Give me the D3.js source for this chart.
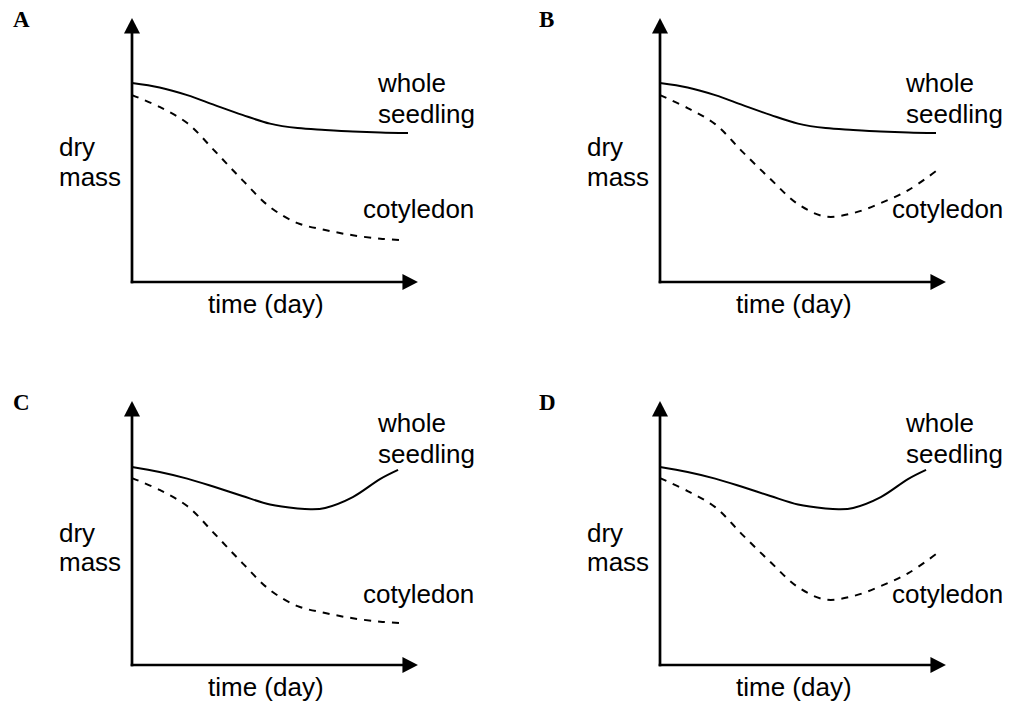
<!DOCTYPE html>
<html>
<head>
<meta charset="utf-8">
<script src="https://cdn.jsdelivr.net/npm/d3@7"></script>
<style>
  html, body { margin: 0; padding: 0; background: #fff; }
  svg { display: block; }
  text { font-family: "Liberation Sans", Arial, sans-serif; fill: #000; }
  .letter { font-family: "Liberation Serif", "Times New Roman", serif; font-weight: bold; }
</style>
</head>
<body>
<svg id="chart" width="1013" height="708"></svg>
<script>
// ---- data ----
const panelLetters = ["A", "B", "C", "D"];
const seriesNames = ["whole seedling", "cotyledon"];
const axisLabels = { x: "time (day)", y: ["dry", "mass"] };

// time (arbitrary days 0..10), dry mass (arbitrary units 0..100)
const daysFull = [0, 1, 2, 3, 4, 5, 6, 7, 8, 9, 10];

// whole seedling: levels off (A, B)
const wholeLevel = [75.4, 73.7, 70.8, 67.0, 63.3, 60.0, 58.3, 57.6, 57.0, 56.6, 56.4];
// whole seedling: dips then rises (C, D)
const wholeRiseDays = [0, 1, 2, 3, 4, 5, 6, 6.5, 7, 8, 9, 9.64];
const wholeRise = [75.0, 73.1, 70.6, 67.4, 64.0, 60.8, 59.3, 59.0, 59.5, 63.6, 70.5, 73.9];

// cotyledon: falls and levels off (A, C)
const cotFallDays = [0, 1, 2, 3, 4, 5, 6, 7, 8, 9, 9.7];
const cotFall = [70.8, 66.3, 60.2, 49.6, 38.6, 28.4, 22.3, 19.7, 17.7, 16.4, 15.9];
// cotyledon: falls then rises (B, D)
const cotRise = [70.8, 65.9, 59.8, 49.2, 39.0, 29.5, 24.8, 26.1, 29.9, 34.8, 42.0];

// ---- layout ----
const svg = d3.select("#chart");
const panelOrigins = [[132, 282], [660, 282], [132, 665], [660, 665]];
const panelSeries = [
  { whole: [daysFull, wholeLevel], cot: [cotFallDays, cotFall] },
  { whole: [daysFull, wholeLevel], cot: [daysFull, cotRise] },
  { whole: [wholeRiseDays, wholeRise], cot: [cotFallDays, cotFall] },
  { whole: [wholeRiseDays, wholeRise], cot: [daysFull, cotRise] }
];
const labelLayout = [
  { letterX: -119, wholeY: -190, cotX: 231, cotY: -64, dryY: -126, massY: -96 },
  { letterX: -121, wholeY: -190, cotX: 232, cotY: -64, dryY: -126, massY: -96 },
  { letterX: -119, wholeY: -233, cotX: 231, cotY: -62, dryY: -123, massY: -94 },
  { letterX: -121, wholeY: -233, cotX: 232, cotY: -62, dryY: -123, massY: -94 }
];

const FS = 26;

panelLetters.forEach((letter, i) => {
  const [ox, oy] = panelOrigins[i];
  const L = labelLayout[i];
  const x = d3.scaleLinear().domain([0, 10]).range([ox, ox + 276]);
  const y = d3.scaleLinear().domain([0, 100]).range([oy, oy - 264]);
  const g = svg.append("g");

  // axes (arrows)
  const xEnd = x(10.36), yEnd = y(100);
  g.append("line").attr("x1", ox).attr("y1", oy + 1.3).attr("x2", ox).attr("y2", yEnd + 12)
    .attr("stroke", "#000").attr("stroke-width", 2.7);
  g.append("line").attr("x1", ox - 1.3).attr("y1", oy).attr("x2", xEnd - 12).attr("y2", oy)
    .attr("stroke", "#000").attr("stroke-width", 2.7);
  g.append("path")
    .attr("d", `M${ox},${yEnd} L${ox - 8},${yEnd + 15.5} L${ox + 8},${yEnd + 15.5} Z`)
    .attr("fill", "#000");
  g.append("path")
    .attr("d", `M${xEnd},${oy} L${xEnd - 15.5},${oy - 8} L${xEnd - 15.5},${oy + 8} Z`)
    .attr("fill", "#000");

  const line = d3.line().x(d => x(d[0])).y(d => y(d[1])).curve(d3.curveCatmullRom.alpha(0.5));
  const s = panelSeries[i];
  const wholePts = d3.zip(s.whole[0], s.whole[1]);
  const cotPts = d3.zip(s.cot[0], s.cot[1]);

  g.append("path").attr("d", line(wholePts)).attr("fill", "none")
    .attr("stroke", "#000").attr("stroke-width", 2);
  g.append("path").attr("d", line(cotPts)).attr("fill", "none")
    .attr("stroke", "#000").attr("stroke-width", 2).attr("stroke-dasharray", "7,7");

  // letter
  g.append("text").attr("class", "letter").attr("x", ox + L.letterX).attr("y", oy - 255)
    .attr("font-size", 23).text(letter);

  // series labels
  const wl = seriesNames[0].split(" ");
  g.append("text").attr("x", ox + 246).attr("y", oy + L.wholeY).attr("font-size", FS).text(wl[0]);
  g.append("text").attr("x", ox + 246).attr("y", oy + L.wholeY + 31).attr("font-size", FS).text(wl[1]);
  g.append("text").attr("x", ox + L.cotX).attr("y", oy + L.cotY).attr("font-size", FS).text(seriesNames[1]);

  // axis labels
  g.append("text").attr("x", ox - 73).attr("y", oy + L.dryY).attr("font-size", FS).text(axisLabels.y[0]);
  g.append("text").attr("x", ox - 73).attr("y", oy + L.massY).attr("font-size", FS).text(axisLabels.y[1]);
  g.append("text").attr("x", ox + 76).attr("y", oy + 31).attr("font-size", FS).text(axisLabels.x);
});
</script>
</body>
</html>
